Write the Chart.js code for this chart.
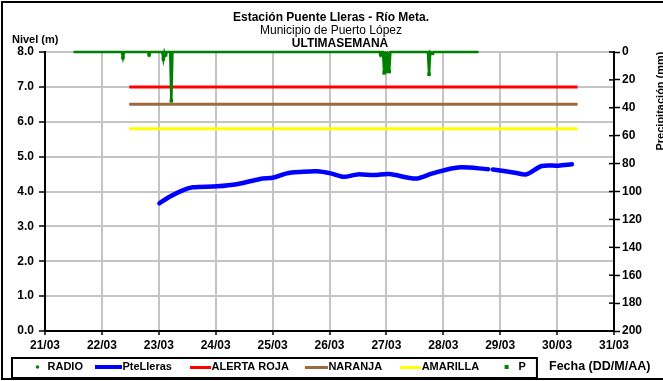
<!DOCTYPE html>
<html><head><meta charset="utf-8">
<script src="https://cdn.jsdelivr.net/npm/chart.js@4"></script>
<style>html,body{margin:0;padding:0;background:#fff}#wrap{width:663px;height:381px;position:relative;overflow:hidden}</style>
</head><body><div id="wrap"><canvas id="c" width="663" height="381"></canvas></div>
<script>
// ---- data (x = days since 21/03 00:00) ----
const dateLabels = ['21/03','22/03','23/03','24/03','25/03','26/03','27/03','28/03','29/03','30/03','31/03'];
const levelTicks = [0,1,2,3,4,5,6,7,8];
const rainTicks = [0,20,40,60,80,100,120,140,160,180,200];

const levelDays   = [2.01,2.19,2.43,2.60,3.02,3.37,3.78,4.02,4.25,4.49,4.78,5.02,5.25,5.49,5.78,6.05,6.52,6.81,7.26,7.79,7.83,7.87,8.26,8.46,8.73,9.02,9.26];
const levelValues = [3.66,3.85,4.04,4.12,4.15,4.21,4.36,4.40,4.52,4.56,4.58,4.52,4.42,4.49,4.47,4.50,4.37,4.52,4.69,4.64,null,4.63,4.54,4.49,4.73,4.74,4.78];

const rainDays   = [0.51,1.35,1.37,1.39,1.81,1.83,1.85,2.06,2.08,2.10,2.12,2.14,2.20,2.22,2.24,5.88,5.90,5.92,5.94,5.96,5.98,6.00,6.02,6.05,6.07,6.73,6.75,6.77,6.81,6.83,7.61];
const rainValues = [0,0,4,0,0,2,0,0,5,0,2,0,0,35,0,0,2,0,0,15,0,14,0,14,0,0,16,0,1,0,0];

const thresholdDays = [1.48, 9.36];
const alertaRoja = 7.0;
const naranja = 6.5;
const amarilla = 5.8;

const titleLines = ['Estación Puente Lleras - Río Meta.', 'Municipio de Puerto López', 'ULTIMASEMANA'];
const yTitle = 'Nivel (m)';
const y2Title = 'Precipitación (mm)';
const xTitle = 'Fecha (DD/M/AA)';

// ---- styling ----
const FONT = "'Liberation Sans', Arial, sans-serif";
Chart.defaults.font.family = FONT;
Chart.defaults.color = '#000';
const GREEN = '#008000', BLUE = '#0000ff', RED = '#ff0000', BROWN = '#9c6a3c', YELLOW = '#ffff00';
const GRID = '#c4c4c4';

// legend symbol canvases: 40px wide, text begins at ~39.5px in canvas coordinates
function icon(kind, color, h, a, b) {
  const c = document.createElement('canvas');
  c.width = 40; c.height = h;
  const g = c.getContext('2d');
  g.fillStyle = color;
  if (kind === 'line') g.fillRect(a, 0, b - a, h);
  else if (kind === 'dot') { g.beginPath(); g.arc(a, h/2, 1.8, 0, Math.PI*2); g.fill(); }
  else g.fillRect(a - 2, h/2 - 2, 4, 4);
  return c;
}
const legendIcons = [
  icon('dot', GREEN, 6, 29.5),
  icon('line', BLUE, 4, 12, 39),
  icon('line', RED, 3, 18, 39),
  icon('line', BROWN, 3, 16, 39),
  icon('line', YELLOW, 3, 18, 39),
  icon('rect', GREEN, 6, 27.5)
];

const pts = (xs, ys) => xs.map((x, i) => ({x, y: ys[i]}));

const decor = {
  id: 'decor',
  beforeDraw(chart) {
    const ctx = chart.ctx; ctx.save();
    ctx.fillStyle = '#fff'; ctx.fillRect(0, 0, chart.width, chart.height);
    ctx.restore();
  },
  afterDraw(chart) {
    const ctx = chart.ctx; ctx.save();
    ctx.fillStyle = '#000'; ctx.textBaseline = 'middle'; ctx.textAlign = 'center';
    ctx.font = 'bold 12px ' + FONT; ctx.fillText(titleLines[0], 331, 18);
    ctx.font = '12px ' + FONT; ctx.fillText(titleLines[1], 331, 31);
    ctx.font = 'bold 12px ' + FONT; ctx.fillText(titleLines[2], 340, 44);
    ctx.textAlign = 'left';
    ctx.font = 'bold 11px ' + FONT; ctx.fillText(yTitle, 12, 40);
    ctx.font = 'bold 12.5px ' + FONT; ctx.fillText(xTitle, 549, 367);
    ctx.save();
    ctx.translate(655, 101); ctx.rotate(-Math.PI/2);
    ctx.textAlign = 'center'; ctx.textBaseline = 'top';
    ctx.font = 'bold 11px ' + FONT; ctx.fillText(y2Title, 0, 0);
    ctx.restore();
    // inner half of right axis ticks
    const y2 = chart.scales.y2;
    ctx.strokeStyle = '#000'; ctx.lineWidth = 1.5;
    y2.ticks.forEach(t => {
      const py = y2.getPixelForValue(t.value);
      ctx.beginPath(); ctx.moveTo(y2.left - 5, py); ctx.lineTo(y2.left, py); ctx.stroke();
    });
    // legend frame
    const hb = chart.legend.legendHitBoxes;
    if (hb && hb.length) {
      const first = hb[0], last = hb[hb.length-1];
      const x0 = first.left - 2, x1 = last.left + last.width + 11;
      const y0 = first.top - 3.5, y1 = first.top + first.height + 5.5;
      ctx.lineWidth = 2; ctx.strokeStyle = '#000';
      ctx.strokeRect(x0, y0, x1 - x0, y1 - y0);
    }
    // outer frame
    ctx.lineWidth = 2; ctx.strokeStyle = '#000';
    ctx.strokeRect(2, 2, 720, 377);
    ctx.restore();
  }
};

new Chart(document.getElementById('c'), {
  type: 'line',
  data: {
    datasets: [
      { label: 'RADIO', data: [], yAxisID: 'y', borderColor: GREEN, backgroundColor: GREEN, showLine: false, pointRadius: 2, order: 3 },
      { label: 'PteLleras', data: pts(levelDays, levelValues), yAxisID: 'y', borderColor: BLUE, backgroundColor: BLUE,
        borderWidth: 4.5, pointRadius: 0, tension: 0.3, spanGaps: false, order: 1, borderCapStyle: 'round' },
      { label: 'ALERTA ROJA', data: pts(thresholdDays, [alertaRoja, alertaRoja]), yAxisID: 'y', borderColor: RED, backgroundColor: RED, borderWidth: 3, pointRadius: 0, order: 2 },
      { label: 'NARANJA', data: pts(thresholdDays, [naranja, naranja]), yAxisID: 'y', borderColor: BROWN, backgroundColor: BROWN, borderWidth: 3, pointRadius: 0, order: 2 },
      { label: 'AMARILLA', data: pts(thresholdDays, [amarilla, amarilla]), yAxisID: 'y', borderColor: YELLOW, backgroundColor: YELLOW, borderWidth: 3, pointRadius: 0, order: 2 },
      { label: 'P', data: pts(rainDays, rainValues), yAxisID: 'y2', borderColor: GREEN, backgroundColor: GREEN,
        borderWidth: 2.5, pointStyle: 'rect', pointRadius: c => (c.raw && c.raw.y > 0 ? 2.5 : 1.2), pointBorderWidth: 0, tension: 0, order: 0, clip: false }
    ]
  },
  options: {
    responsive: false, animation: false, devicePixelRatio: 1,
    layout: { padding: { top: 52, left: 8, right: 0, bottom: 0 } },
    plugins: {
      tooltip: { enabled: false },
      title: { display: false },
      legend: {
        position: 'bottom', align: 'start', maxHeight: 25.5,
        labels: {
          usePointStyle: true, pointStyleWidth: 28, padding: 6,
          font: { size: 11, weight: 'bold' }, color: '#000',
          generateLabels(chart) {
            const items = Chart.defaults.plugins.legend.labels.generateLabels(chart);
            items.sort((a, b) => a.datasetIndex - b.datasetIndex);
            items.forEach(it => { it.pointStyle = legendIcons[it.datasetIndex]; it.lineWidth = 0; });
            return items;
          }
        }
      }
    },
    scales: {
      x: {
        type: 'linear', min: 0, max: 10,
        afterFit(s) { s.height = 24.5; },
        ticks: { stepSize: 1, autoSkip: false, maxRotation: 0, padding: 3, font: { size: 12, weight: 'bold' }, color: '#000',
          callback: v => dateLabels[v] !== undefined ? dateLabels[v] : '' },
        grid: { color: GRID, lineWidth: 2, tickColor: '#000', tickLength: 4, tickWidth: 1.5 },
        border: { color: '#000', width: 2 }
      },
      y: {
        position: 'left', min: 0, max: 8,
        afterFit(s) { s.width = 37; },
        afterBuildTicks(s) { s.ticks = levelTicks.map(v => ({value: v})); },
        ticks: { padding: 5, font: { size: 12, weight: 'bold' }, color: '#000', callback: v => v.toFixed(1) },
        grid: { color: GRID, lineWidth: 2, tickColor: '#000', tickLength: 6, tickWidth: 1.5 },
        border: { color: '#000', width: 2 }
      },
      y2: {
        position: 'right', min: 0, max: 200, reverse: true,
        afterFit(s) { s.width = 49; },
        afterBuildTicks(s) { s.ticks = rainTicks.map(v => ({value: v})); },
        ticks: { padding: 2, font: { size: 12, weight: 'bold' }, color: '#000' },
        grid: { drawOnChartArea: false, tickColor: '#000', tickLength: 6, tickWidth: 1.5 },
        border: { color: '#000', width: 2 }
      }
    }
  },
  plugins: [decor]
});
</script>
</body></html>
